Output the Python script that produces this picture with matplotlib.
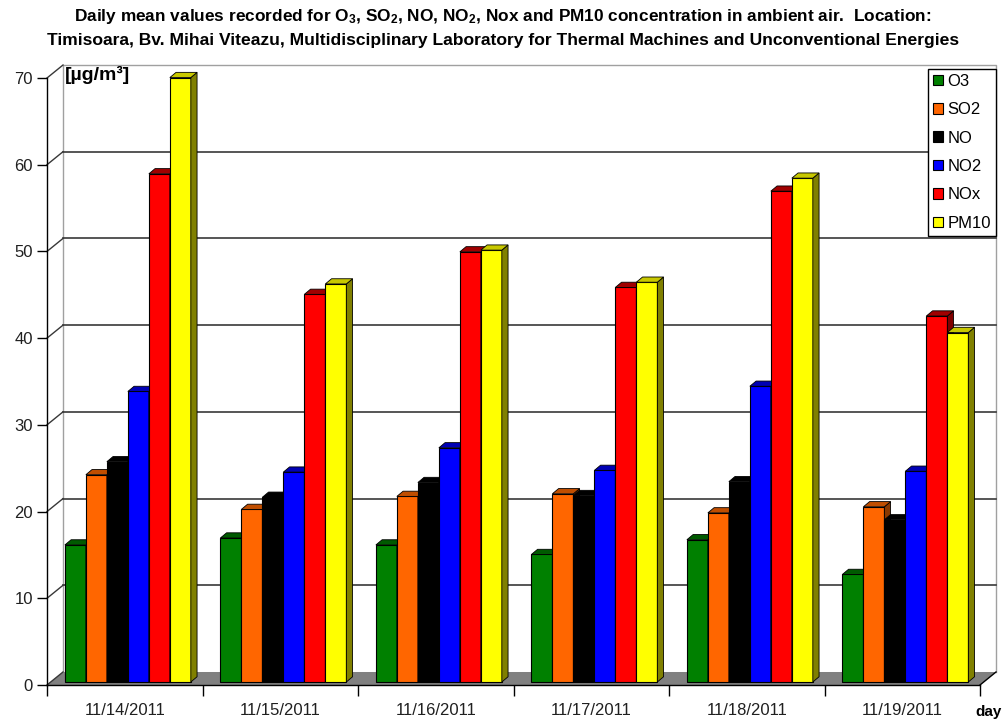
import matplotlib.pyplot as plt
from matplotlib.patches import Polygon, Patch
import numpy as np

plt.rcParams['font.family'] = ['Liberation Sans', 'DejaVu Sans']
plt.rcParams['mathtext.default'] = 'regular'

days = ['11/14/2011', '11/15/2011', '11/16/2011', '11/17/2011', '11/18/2011', '11/19/2011']
species = ['O3', 'SO2', 'NO', 'NO2', 'NOx', 'PM10']

o3 = [15.8, 16.6, 15.8, 14.7, 16.4, 12.4]
so2 = [23.9, 19.9, 21.4, 21.7, 19.5, 20.2]
no = [25.4, 21.3, 23.0, 21.5, 23.1, 18.7]
no2 = [33.5, 24.2, 27.0, 24.4, 34.1, 24.3]
nox = [58.6, 44.7, 49.6, 45.5, 56.6, 42.2]
pm10 = [69.7, 45.9, 49.8, 46.1, 58.1, 40.3]
series = [o3, so2, no, no2, nox, pm10]

front_colors = ['#008000', '#ff6600', '#000000', '#0000ff', '#ff0000', '#ffff00']
top_colors = ['#005a00', '#c04e00', '#000000', '#0000b4', '#a00000', '#c8c800']
side_colors = ['#004000', '#8a3800', '#000000', '#000080', '#800000', '#808000']

fig = plt.figure(figsize=(10.06, 7.22), dpi=100)
ax = fig.add_axes([47 / 1006, 37 / 722, 933 / 1006, 607 / 722])
ax.set_xlim(-0.5, 5.5)
ax.set_ylim(0, 70)

# 3D look: back wall offset and bar depth (in data units)
wx, wy = 0.103, 1.5
bx, by = 0.04, 0.6
lift = 0.35
bw = 0.135

# floor
floor = Polygon([(-0.5, 0), (5.5, 0), (5.5 + wx, wy), (-0.5 + wx, wy)],
                closed=True, facecolor='#808080', edgecolor='none', zorder=1, clip_on=False)
ax.add_patch(floor)
ax.plot([5.5, 5.5 + wx], [0, wy], color='black', lw=1, zorder=1.5, clip_on=False)

# back wall border and gridlines
ax.plot([-0.5 + wx, -0.5 + wx, 5.5 + wx, 5.5 + wx], [wy, 70 + wy, 70 + wy, wy],
        color='#a0a0a0', lw=1, zorder=1, clip_on=False)
for v in range(10, 70, 10):
    ax.plot([-0.5 + wx, 5.5 + wx], [v + wy, v + wy], color='#383838', lw=1.2, zorder=1, clip_on=False)
for v in range(0, 80, 10):
    ax.plot([-0.5, -0.5 + wx], [v, v + wy], color='#383838', lw=1, zorder=1, clip_on=False)

# bars with top and side faces
for j, vals in enumerate(series):
    x = np.arange(len(days)) + 0.02 + (j - 2.5) * bw
    bars = ax.bar(x, vals, bw, bottom=lift, color=front_colors[j], edgecolor='black',
                  linewidth=0.8, zorder=3 + j, clip_on=False)
    for r in bars:
        x0, y0, w, h = r.get_x(), r.get_y(), r.get_width(), r.get_height()
        top = Polygon([(x0, y0 + h), (x0 + w, y0 + h), (x0 + w + bx, y0 + h + by), (x0 + bx, y0 + h + by)],
                      closed=True, facecolor=top_colors[j], edgecolor='black', lw=0.6,
                      zorder=3 + j, clip_on=False)
        side = Polygon([(x0 + w, y0), (x0 + w, y0 + h), (x0 + w + bx, y0 + h + by), (x0 + w + bx, y0 + by)],
                       closed=True, facecolor=side_colors[j], edgecolor='black', lw=0.6,
                       zorder=3 + j, clip_on=False)
        ax.add_patch(side)
        ax.add_patch(top)

for s in ['top', 'right']:
    ax.spines[s].set_visible(False)
ax.spines['left'].set_linewidth(1)
ax.spines['bottom'].set_linewidth(1)
ax.spines['bottom'].set_zorder(20)

ax.set_yticks(range(0, 80, 10))
ax.tick_params(axis='y', length=7, width=1, labelsize=12, labelcolor='#202020', pad=3)
ax.set_xticks(np.arange(-0.5, 6, 1))
ax.set_xticklabels([])
ax.set_xticks(np.arange(len(days)), minor=True)
ax.set_xticklabels(days, minor=True)
ax.tick_params(axis='x', which='major', length=8, width=1)
ax.tick_params(axis='x', which='minor', length=0, pad=13, labelsize=12, labelcolor='#202020')

handles = [Patch(facecolor=c, edgecolor='black', linewidth=0.8, label=s)
           for c, s in zip(front_colors, species)]
leg = fig.legend(handles=handles, loc='upper right', bbox_to_anchor=(996 / 1006, 1 - 69 / 722),
                 fancybox=False, edgecolor='black', framealpha=1, fontsize=12,
                 handlelength=0.6, handleheight=0.6, handletextpad=0.25, labelspacing=0.8,
                 borderpad=0.3, borderaxespad=0)
leg.get_frame().set_linewidth(1)

fig.text(65 / 1006, 1 - 75 / 722, '[µg/m³]', fontsize=14, fontweight='bold', va='center', ha='left')
fig.text(989 / 1006, 1 - 712 / 722, 'day', fontsize=11, fontweight='bold', va='center', ha='center')

title_font = ['Liberation Sans Narrow', 'Liberation Sans', 'DejaVu Sans']
fig.text(0.5, 1 - 17 / 722,
         'Daily mean values recorded for O$_3$, SO$_2$, NO, NO$_2$, Nox and PM10 concentration in ambient air.  Location:',
         family=title_font, fontsize=12.4, fontweight='bold', ha='center', va='center')
fig.text(0.5, 1 - 41 / 722,
         'Timisoara, Bv. Mihai Viteazu, Multidisciplinary Laboratory for Thermal Machines and Unconventional Energies',
         family=title_font, fontsize=12.6, fontweight='bold', ha='center', va='center')

fig.savefig('out.png', dpi=100)
